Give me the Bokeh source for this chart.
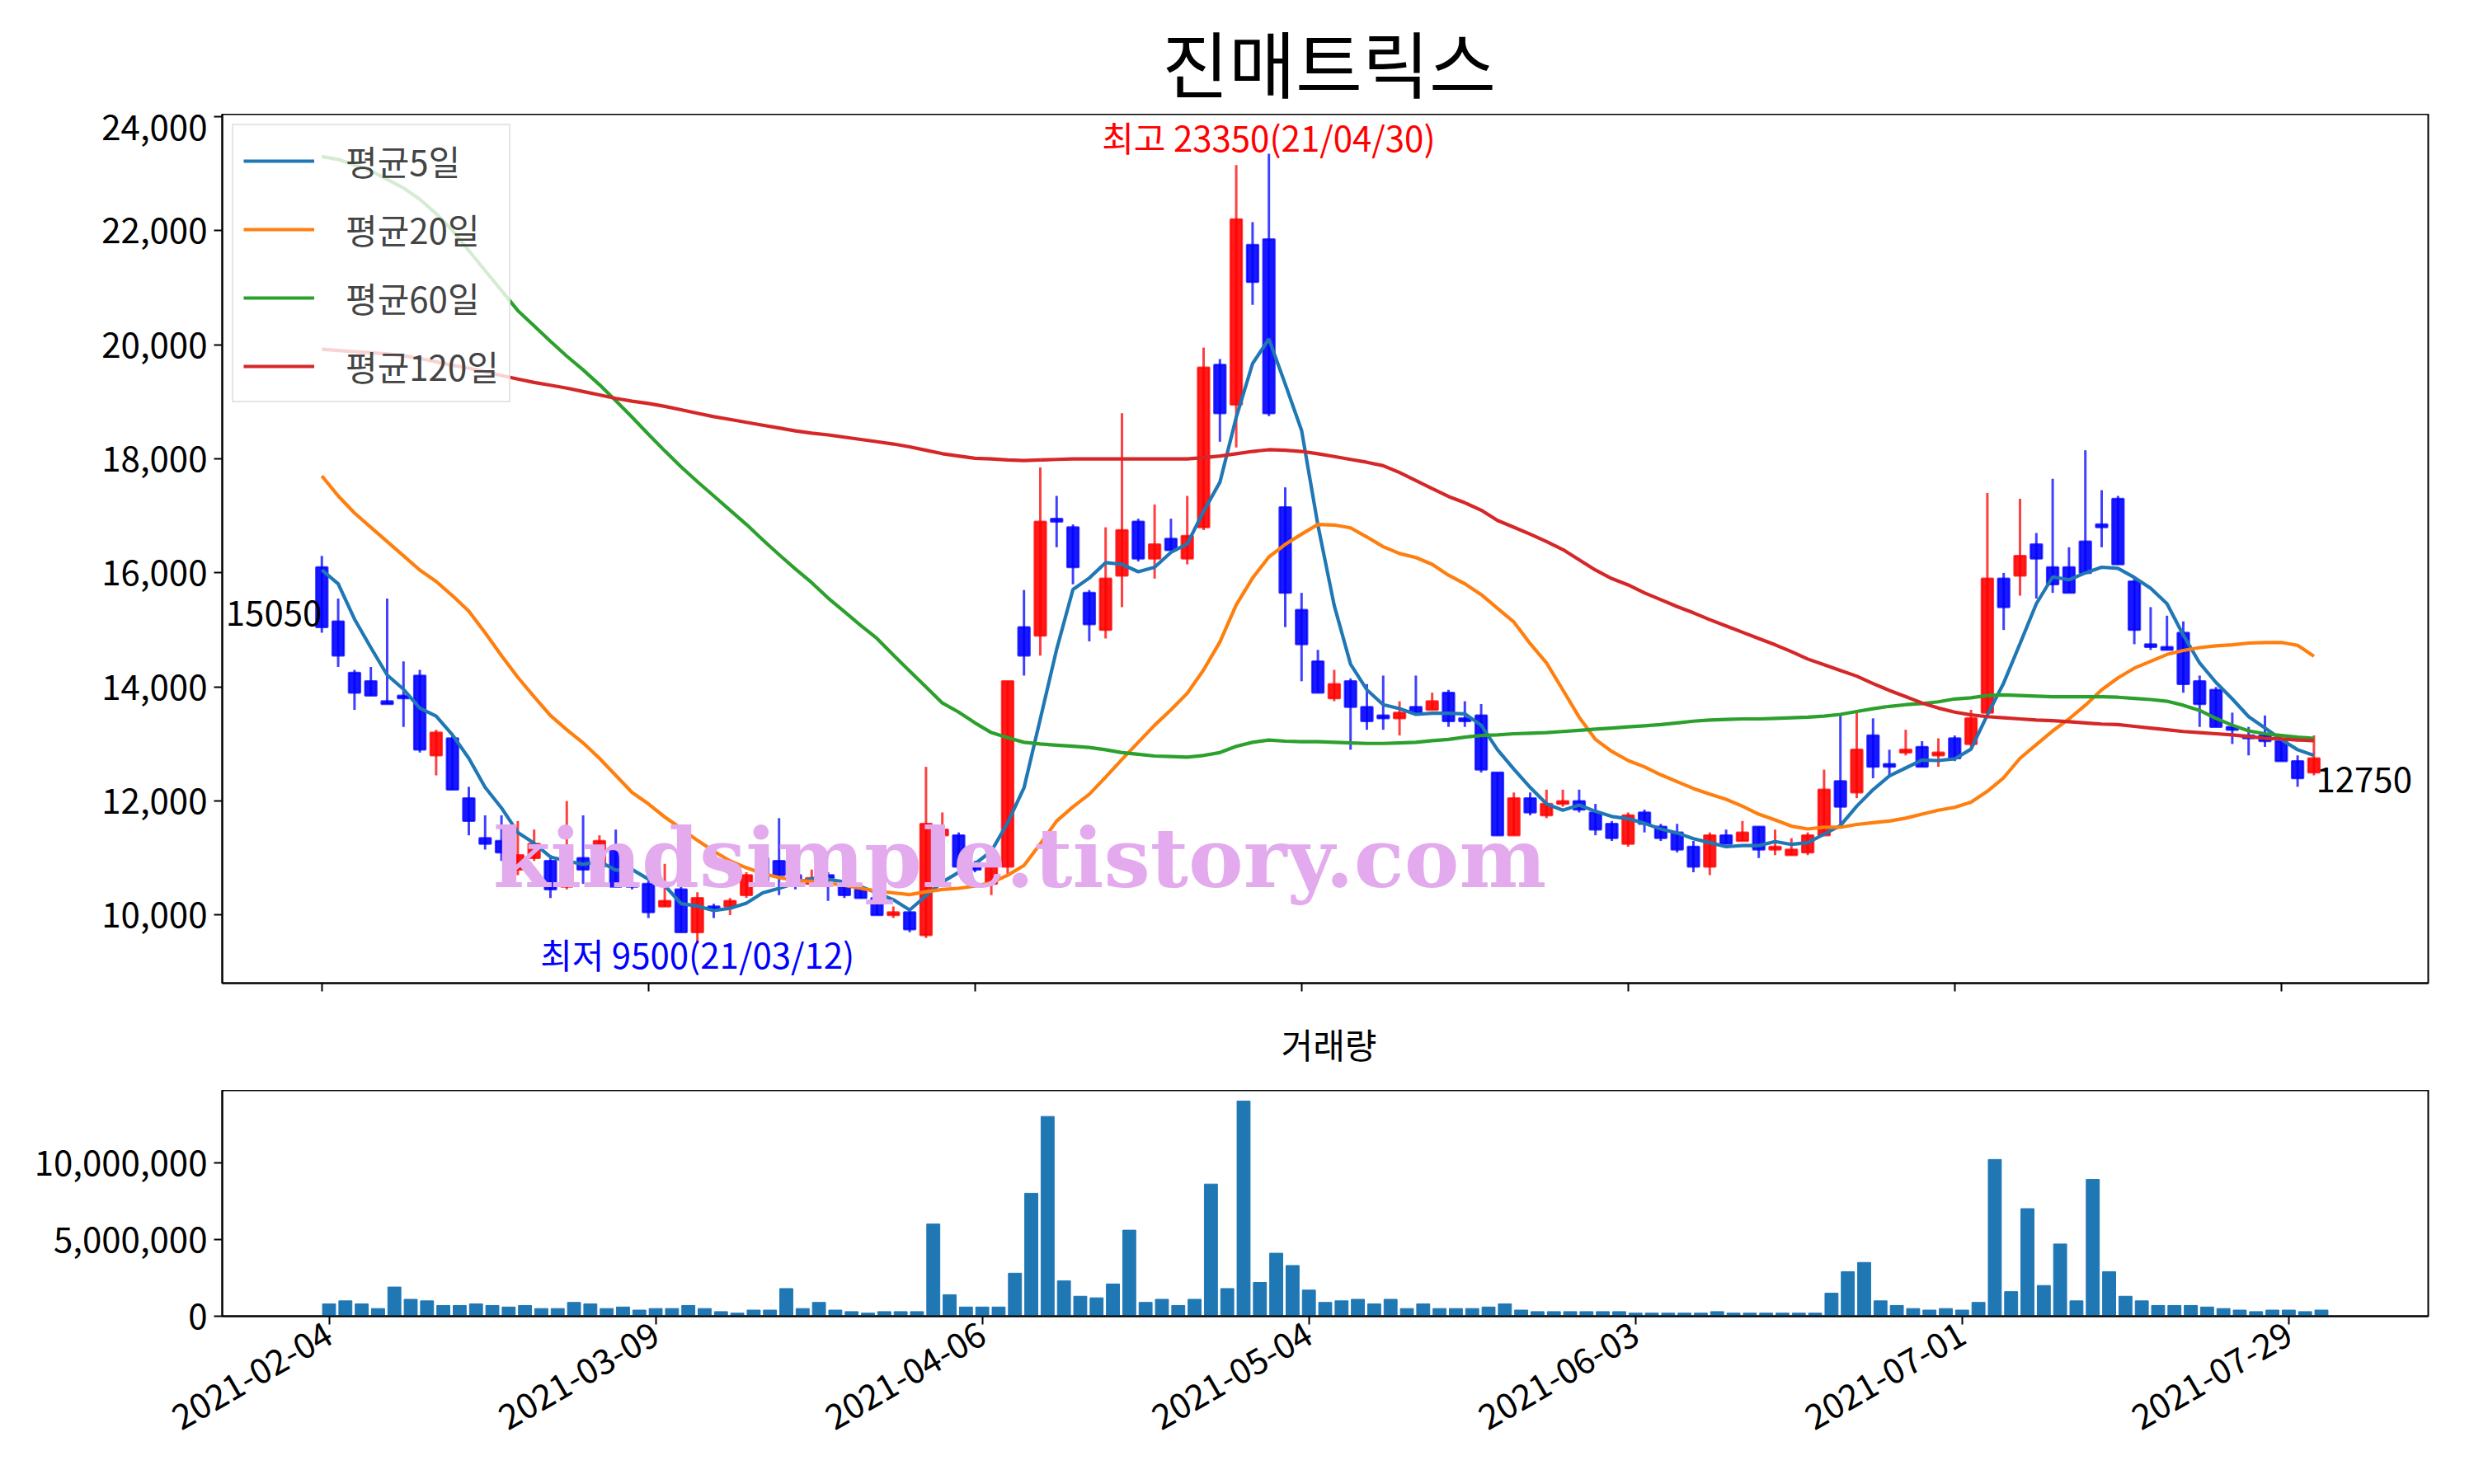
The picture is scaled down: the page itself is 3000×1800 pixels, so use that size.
import pandas as pd
from bokeh.plotting import figure
from bokeh.layouts import column
from bokeh.models import (ColumnDataSource, Range1d, FixedTicker, NumeralTickFormatter,
                          Legend, LegendItem, Div, CustomJSTickFormatter)
from bokeh.embed import file_html
from bokeh.resources import INLINE

# ---------------- data ----------------
title_text = "진매트릭스"
tick_days = [0, 20, 40, 60, 80, 100, 120]
tick_labels = ["2021-02-04", "2021-03-09", "2021-04-06", "2021-05-04",
               "2021-06-03", "2021-07-01", "2021-07-29"]
holidays = ["2021-02-11", "2021-02-12", "2021-03-01", "2021-05-05", "2021-05-19"]
dates = [d.strftime("%Y-%m-%d") for d in pd.bdate_range("2021-02-04", "2021-08-02")
         if d.strftime("%Y-%m-%d") not in holidays]

opens = [16100, 15150, 14250, 14100, 13750, 13850, 14200, 12800, 13100, 12050,
         11350, 11300, 10800, 11000, 10950, 10500, 11000, 10850, 11200, 10550,
         10550, 10150, 10450, 9700, 10150, 10150, 10350, 11000, 10950, 10700,
         10550, 10700, 10550, 10450, 10300, 10000, 10050, 9650, 11400, 11400,
         10900, 10550, 10850, 15050, 14900, 16950, 16800, 15650, 15000, 15950,
         16900, 16250, 16600, 16250, 16800, 19650, 18950, 21750, 21850, 17150,
         15350, 14450, 13800, 14100, 13650, 13500, 13450, 13650, 13600, 13900,
         13450, 13500, 12500, 11400, 12050, 11750, 11950, 12000, 11800, 11600,
         11250, 11800, 11550, 11450, 11200, 10850, 11400, 11300, 11550, 11150,
         11050, 11100, 11400, 12350, 12150, 13150, 12650, 12850, 12950, 12800,
         13100, 13000, 13550, 15900, 15950, 16500, 16100, 16100, 16550, 16850,
         17300, 15850, 14750, 14700, 14950, 14100, 13950, 13300, 13150, 13150,
         13050, 12700, 12500]
highs = [16300, 15550, 14300, 14350, 15550, 14450, 14300, 13250, 13150, 12250,
         11750, 11750, 11650, 11500, 11050, 12000, 11750, 11400, 11500, 10600,
         10600, 10900, 10500, 10400, 10200, 10300, 10750, 11050, 11700, 10800,
         10800, 10750, 10600, 10550, 10350, 10150, 10100, 12600, 11800, 11450,
         10950, 10900, 14100, 15700, 17850, 17350, 16850, 15700, 16800, 18800,
         16950, 17200, 16950, 17350, 19950, 19750, 23150, 22150, 23350, 17500,
         15650, 14650, 14300, 14150, 14050, 14200, 13750, 14200, 13900, 13950,
         13750, 13700, 12500, 12150, 12150, 12200, 12200, 12200, 11950, 11650,
         11800, 11850, 11600, 11600, 11300, 11450, 11500, 11650, 11550, 11500,
         11350, 11450, 12550, 13500, 13550, 13450, 12900, 13250, 13050, 13100,
         13150, 13600, 17400, 16000, 17300, 16700, 17650, 16450, 18150, 17450,
         17350, 15900, 15400, 15250, 15150, 14200, 14000, 13550, 13300, 13500,
         13100, 12800, 13150]
lows = [14950, 14350, 13600, 13850, 13700, 13300, 12850, 12450, 12200, 11400,
        11150, 10950, 10700, 10950, 10300, 10450, 10550, 10800, 10500, 10450,
        9950, 10150, 9700, 9500, 9950, 10000, 10300, 10550, 10350, 10450,
        10500, 10250, 10300, 10300, 10000, 9950, 9700, 9600, 11000, 10800,
        10750, 10350, 10700, 14200, 14550, 16450, 15800, 14800, 14850, 15400,
        16200, 15900, 16400, 16150, 16750, 18300, 18200, 20700, 18750, 15050,
        14100, 13900, 13750, 12900, 13250, 13250, 13150, 13550, 13600, 13300,
        13300, 12500, 11400, 11400, 11750, 11700, 11900, 11800, 11400, 11300,
        11200, 11450, 11300, 11100, 10750, 10700, 11250, 11300, 11000, 11050,
        11050, 11050, 11400, 11550, 12050, 12400, 12450, 12800, 12600, 12600,
        12700, 12950, 13500, 15000, 15600, 15550, 15650, 15650, 16000, 16450,
        16150, 14750, 14650, 14650, 13900, 13300, 13300, 13000, 12800, 12950,
        12700, 12250, 12450]
closes = [15050, 14550, 13900, 13850, 13700, 13800, 12900, 13200, 12200, 11650,
          11250, 11100, 11050, 11250, 10450, 10900, 10800, 11300, 10500, 10500,
          10050, 10250, 9700, 10300, 10100, 10250, 10700, 10600, 10700, 10550,
          10650, 10650, 10350, 10300, 10000, 10050, 9750, 11600, 11500, 10850,
          10800, 10850, 14100, 14550, 16900, 16900, 16100, 15100, 15900, 16750,
          16250, 16500, 16400, 16650, 19600, 18800, 22200, 21100, 18800, 15650,
          14750, 13900, 14050, 13650, 13400, 13450, 13550, 13550, 13750, 13400,
          13400, 12550, 11400, 12050, 11800, 11950, 12000, 11850, 11500, 11350,
          11750, 11600, 11350, 11150, 10850, 11400, 11250, 11450, 11150, 11200,
          11150, 11400, 12200, 11900, 12900, 12600, 12600, 12900, 12600, 12850,
          12750, 13450, 15900, 15400, 16300, 16250, 15800, 15650, 16000, 16800,
          16150, 15000, 14700, 14650, 14050, 13700, 13300, 13250, 13100, 13050,
          12700, 12400, 12750]
volumes = [800000, 1000000, 800000, 500000, 1900000, 1100000, 1000000, 700000, 700000, 800000,
           700000, 600000, 700000, 500000, 500000, 900000, 800000, 500000, 600000, 400000,
           500000, 500000, 700000, 500000, 300000, 200000, 400000, 400000, 1800000, 500000,
           900000, 400000, 300000, 200000, 300000, 300000, 300000, 6000000, 1400000, 600000,
           600000, 600000, 2800000, 8000000, 13000000, 2300000, 1300000, 1200000, 2100000, 5600000,
           900000, 1100000, 700000, 1100000, 8600000, 1800000, 14000000, 2200000, 4100000, 3300000,
           1700000, 900000, 1000000, 1100000, 800000, 1100000, 500000, 800000, 500000, 500000,
           500000, 600000, 800000, 400000, 300000, 300000, 300000, 300000, 300000, 300000,
           200000, 200000, 200000, 200000, 200000, 300000, 200000, 200000, 200000, 200000,
           200000, 200000, 1500000, 2900000, 3500000, 1000000, 700000, 500000, 400000, 500000,
           400000, 900000, 10200000, 1600000, 7000000, 2000000, 4700000, 1000000, 8900000, 2900000,
           1300000, 1000000, 700000, 700000, 700000, 600000, 500000, 400000, 300000, 400000,
           400000, 300000, 400000]
ma5 = [16050, 15810, 15190, 14690, 14210, 13960, 13630, 13490, 13160, 12750,
       12240, 11880, 11450, 11260, 11020, 10950, 10890, 10940, 10790, 10800,
       10630, 10520, 10200, 10160, 10080, 10120, 10210, 10390, 10470, 10560,
       10640, 10630, 10580, 10500, 10390, 10270, 10090, 10340, 10580, 10750,
       10900, 11120, 11620, 12230, 13440, 14660, 15710, 15910, 16180, 16150,
       16020, 16100, 16360, 16510, 17080, 17590, 18730, 19670, 20100, 19310,
       18500, 16840, 15430, 14400, 13950, 13690, 13620, 13520, 13540, 13540,
       13530, 13330, 12900, 12560, 12240, 11950, 11840, 11930, 11820, 11730,
       11690, 11610, 11510, 11440, 11340, 11270, 11200, 11220, 11220, 11290,
       11240, 11270, 11420, 11570, 11910, 12200, 12440, 12580, 12720, 12710,
       12740, 12910, 13510, 14070, 14760, 15460, 15930, 15880, 16000, 16100,
       16080, 15920, 15730, 15460, 14910, 14420, 14080, 13790, 13480, 13280,
       13080, 12900, 12800]
ma20 = [17700, 17350, 17050, 16800, 16550, 16300, 16050, 15850, 15600, 15330,
        14950, 14550, 14170, 13830, 13500, 13250, 13020, 12750, 12450, 12150,
        11950, 11720, 11520, 11310, 11120, 10950, 10830, 10730, 10660, 10610,
        10590, 10560, 10520, 10470, 10420, 10390, 10360, 10410, 10450, 10470,
        10510, 10570, 10700, 10870, 11250, 11650, 11900, 12120, 12420, 12730,
        13030, 13330, 13600, 13890, 14300, 14790, 15440, 15910, 16280, 16500,
        16680, 16850, 16840, 16790, 16630, 16460, 16340, 16270, 16150, 15960,
        15810, 15620, 15380, 15140, 14760, 14420, 13950, 13470, 13080, 12870,
        12710, 12600, 12460, 12340, 12220, 12120, 12030, 11910, 11770, 11670,
        11560, 11510, 11540, 11540, 11590, 11620, 11650, 11700, 11770, 11840,
        11890, 11980, 12170, 12410, 12750, 12990, 13230, 13440, 13680, 13950,
        14160, 14330, 14450, 14570, 14640, 14690, 14720, 14740, 14770, 14780,
        14780, 14730, 14540]
ma60 = [23300, 23250, 23150, 23050, 22900, 22750, 22550, 22300, 22000, 21650,
        21300, 20950, 20600, 20330, 20060, 19800, 19560, 19300, 19020, 18730,
        18430, 18140, 17860, 17600, 17350, 17100, 16850, 16580, 16320, 16070,
        15830, 15560, 15320, 15080, 14850, 14560, 14280, 14000, 13720, 13560,
        13370, 13200, 13110, 13030, 13000, 12980, 12960, 12940, 12900, 12850,
        12820, 12790, 12780, 12770, 12800, 12850, 12960, 13030, 13070, 13050,
        13040, 13040, 13030, 13020, 13010, 13010, 13020, 13030, 13060, 13080,
        13120, 13150, 13160, 13180, 13190, 13200, 13220, 13240, 13260, 13280,
        13300, 13320, 13340, 13370, 13400, 13420, 13430, 13440, 13440, 13450,
        13460, 13470, 13490, 13520, 13570, 13620, 13660, 13690, 13710, 13740,
        13790, 13810, 13850, 13860, 13850, 13840, 13830, 13830, 13830, 13830,
        13820, 13800, 13780, 13750, 13680, 13590, 13450, 13330, 13230, 13180,
        13150, 13120, 13100]
ma120 = [19920, 19900, 19880, 19860, 19840, 19810, 19760, 19700, 19640, 19590,
         19530, 19460, 19400, 19340, 19290, 19240, 19180, 19120, 19060, 19010,
         18970, 18920, 18860, 18800, 18740, 18690, 18640, 18590, 18540, 18490,
         18450, 18420, 18380, 18340, 18300, 18260, 18210, 18150, 18090, 18050,
         18010, 18000, 17980, 17970, 17980, 17990, 18000, 18000, 18000, 18000,
         18000, 18000, 18000, 18000, 18020, 18050, 18090, 18130, 18160, 18150,
         18130, 18090, 18040, 17990, 17940, 17880, 17760, 17620, 17480, 17340,
         17230, 17100, 16920, 16800, 16680, 16550, 16410, 16230, 16050, 15900,
         15790, 15650, 15530, 15410, 15300, 15180, 15070, 14960, 14850, 14740,
         14620, 14490, 14390, 14290, 14190, 14060, 13940, 13830, 13720, 13630,
         13560, 13510, 13480, 13460, 13440, 13420, 13410, 13390, 13370, 13350,
         13340, 13310, 13280, 13250, 13220, 13200, 13180, 13160, 13130, 13100,
         13090, 13070, 13060]
ma_labels = ["평균5일", "평균20일", "평균60일", "평균120일"]
watermark = "kindsimple.tistory.com"
vol_title = "거래량"

# ---------------- styling ----------------
FONT = "Noto Sans CJK KR"
TXT_PX = "42px"
UP, DOWN = "#ff0000", "#0000ff"
MA_COLORS = ["#1f77b4", "#ff7f0e", "#2ca02c", "#d62728"]
FRAME_W = 2675
FRAME_H = 1054
LEFT = 269
RIGHT = 30
TOTAL_W = LEFT + FRAME_W + RIGHT
X0, X1 = -6.1, 129.0
PX_PER_DAY = FRAME_W / (X1 - X0)

days = list(range(len(closes)))
colors = [UP if c >= o else DOWN for o, c in zip(opens, closes)]
src = ColumnDataSource(dict(
    x=days, o=opens, h=highs, l=lows, c=closes,
    top=[max(o, c) for o, c in zip(opens, closes)],
    bottom=[min(o, c) for o, c in zip(opens, closes)],
    color=colors))


def style_axes(fig):
    fig.outline_line_color = "black"
    fig.outline_line_width = 2
    fig.xgrid.grid_line_color = None
    fig.ygrid.grid_line_color = None
    for ax in fig.axis:
        ax.axis_line_width = 2
        ax.axis_line_color = "black"
        ax.major_tick_line_width = 2
        ax.major_tick_out = 10
        ax.major_tick_in = 0
        ax.minor_tick_line_color = None
        ax.major_label_text_font = FONT
        ax.major_label_text_font_size = TXT_PX
        ax.major_label_text_color = "black"
        ax.major_label_standoff = 8


lo_val = min(lows)
hi_val = max(highs)
pad = (hi_val - lo_val) * 0.05
y0, y1 = lo_val - pad, hi_val + pad
per_px = (y1 - y0) / FRAME_H   # data units per screen pixel


def sx(d):   # screen px from frame left
    return (d - X0) * PX_PER_DAY


def sy(v):   # screen px from frame bottom
    return (v - y0) / per_px


title_div = Div(text=title_text, width=TOTAL_W, height=128,
                styles={"font-family": FONT, "font-size": "88px", "text-align": "center",
                        "padding-left": f"{LEFT}px", "padding-right": f"{RIGHT}px",
                        "line-height": "138px", "color": "black", "box-sizing": "border-box"})

p = figure(x_range=Range1d(X0, X1), y_range=Range1d(y0, y1),
           width=TOTAL_W, height=FRAME_H + 40,
           min_border_left=LEFT, min_border_right=RIGHT, min_border_top=0, min_border_bottom=40,
           output_backend="svg", toolbar_location=None)
style_axes(p)
p.yaxis.ticker = FixedTicker(ticks=list(range(10000, 24001, 2000)))
p.yaxis.formatter = NumeralTickFormatter(format="0,0")
p.xaxis.ticker = FixedTicker(ticks=tick_days)
p.xaxis.major_label_text_alpha = 0
p.xaxis.major_label_text_font_size = "8px"

# candles
p.segment(x0="x", y0="l", x1="x", y1="h", source=src, line_color="color",
          line_width=3, line_alpha=0.75)
p.vbar(x="x", top="top", bottom="bottom", width=0.7, source=src,
       fill_color="color", fill_alpha=0.9, line_color="color", line_alpha=0.75, line_width=2.5)

# moving averages
renderers = []
for vals, col in zip([ma5, ma20, ma60, ma120], MA_COLORS):
    renderers.append(p.line(days, vals, line_color=col, line_width=4.2))

# invisible host renderer for the text annotations (drawn as glyph-less legends)
ghost = p.line(x=[days[0]], y=[closes[0]], line_alpha=0)


def text_box(txt, left_px, center_px, color, size, font=FONT, style="normal", box_h=60):
    lg = Legend(items=[LegendItem(label=txt, renderers=[ghost])],
                location=(left_px, center_px - box_h / 2))
    lg.label_text_font = font
    lg.label_text_font_size = size
    lg.label_text_font_style = style
    lg.label_text_color = color
    lg.label_height = box_h
    lg.glyph_height = 1
    lg.glyph_width = 1
    lg.label_standoff = 0
    lg.padding = 0
    lg.margin = 0
    lg.spacing = 0
    lg.border_line_color = None
    lg.background_fill_alpha = 0
    p.add_layout(lg)


# watermark
text_box(watermark, 328, 151, "#e3aaee", "100px", font="DejaVu Serif", style="bold", box_h=130)

# annotations
hi_i = highs.index(hi_val)
lo_i = lows.index(lo_val)
text_box(f"최고 {hi_val}({dates[hi_i][2:].replace('-', '/')})",
         sx(hi_i) - 203, sy(hi_val) + 20, "red", TXT_PX)
text_box(f"최저 {lo_val}({dates[lo_i][2:].replace('-', '/')})",
         sx(lo_i) - 191, sy(lo_val) - 13, "blue", TXT_PX)
text_box(f"{closes[0]}", sx(0) - 117, sy(closes[0]) + 19, "black", TXT_PX)
text_box(f"{closes[-1]}", sx(days[-1]) + 2, sy(closes[-1]) - 24, "black", TXT_PX)

legend = Legend(items=[LegendItem(label=lab, renderers=[r]) for lab, r in zip(ma_labels, renderers)],
                location="top_left")
legend.label_text_font = FONT
legend.label_text_font_size = TXT_PX
legend.glyph_width = 86
legend.glyph_height = 42
legend.label_height = 42
legend.label_standoff = 38
legend.spacing = 22
legend.padding = 12
legend.margin = 12
legend.border_line_color = "#cccccc"
legend.border_line_width = 2
legend.background_fill_alpha = 0.8
p.add_layout(legend)

vol_div = Div(text=vol_title, width=TOTAL_W, height=80,
              styles={"font-family": FONT, "font-size": "42px", "text-align": "center",
                      "padding-left": f"{LEFT}px", "padding-right": f"{RIGHT}px",
                      "line-height": "58px", "color": "black", "box-sizing": "border-box"})

# volume panel
p2 = figure(x_range=Range1d(-6.54, 128.54), y_range=Range1d(0, max(volumes) * 1.05),
            width=TOTAL_W, height=274 + 200,
            min_border_left=LEFT, min_border_right=RIGHT, min_border_top=0, min_border_bottom=200,
            output_backend="svg", toolbar_location=None)
style_axes(p2)
p2.vbar(x=days, top=volumes, width=0.8, fill_color="#1f77b4", line_color="#1f77b4")
p2.yaxis.ticker = FixedTicker(ticks=[0, 5000000, 10000000])
p2.yaxis.formatter = NumeralTickFormatter(format="0,0")
p2.xaxis.ticker = FixedTicker(ticks=tick_days)
p2.xaxis.formatter = CustomJSTickFormatter(
    args=dict(tk=tick_days, lb=tick_labels),
    code="const i = tk.indexOf(Math.round(tick)); return i >= 0 ? lb[i] : '';")
p2.xaxis.major_label_orientation = 0.5236

layout = column(title_div, p, vol_div, p2)
open("out.html", "w").write(file_html(layout, INLINE))
